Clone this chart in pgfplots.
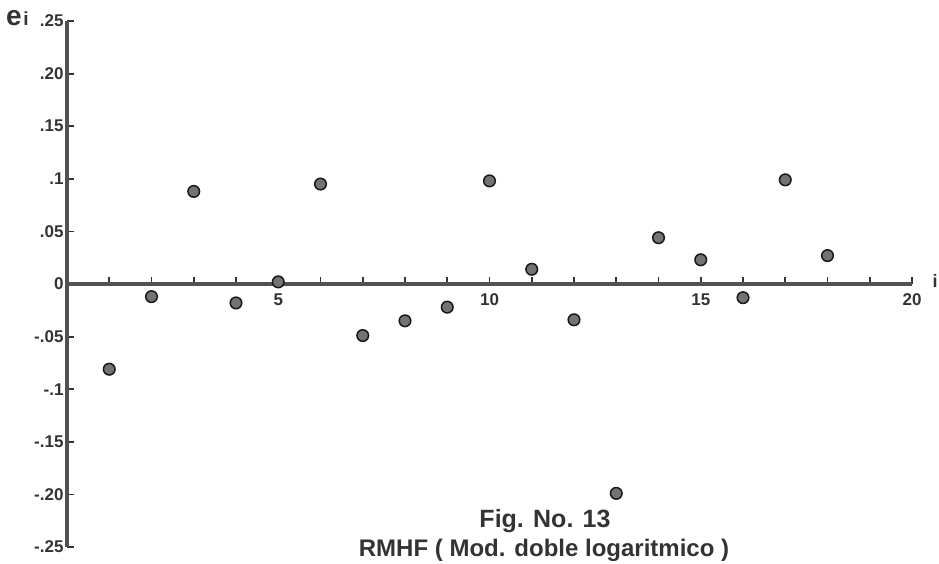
\documentclass[border=0pt]{standalone}
\usepackage{pgfplots}
\pgfplotsset{compat=1.18}
\usepackage{fontspec}
\setmainfont{Liberation Sans}
\definecolor{ink}{gray}{0.2}
\begin{document}
\begin{tikzpicture}
\path[use as bounding box] (0pt,0pt) rectangle (939pt,563pt);
\begin{axis}[
  at={(67pt,16pt)}, anchor=south west,
  scale only axis, width=845pt, height=526pt,
  xmin=0, xmax=20, ymin=-0.25, ymax=0.25,
  enlargelimits=false, clip=false,
  axis x line=middle, axis y line=left,
  axis line style={-, line width=3.5pt, draw=ink!85},
  xtick={1,...,20},
  xticklabels={,,,,5,,,,,10,,,,,15,,,,,20},
  ytick={-0.25,-0.2,-0.15,-0.1,-0.05,0,0.05,0.1,0.15,0.2,0.25},
  yticklabels={-.25,-.20,-.15,-.1,-.05,0,.05,.1,.15,.20,.25},
  tick align=inside,
  major tick length=7pt,
  tick style={line width=1.8pt, draw=ink},
  ticklabel style={font=\fontsize{17}{17}\selectfont\bfseries, text=ink},
  xticklabel style={yshift=-6pt},
  hide obscured x ticks=false, hide obscured y ticks=false,
]
\addplot[only marks, mark=*, mark size=5.8pt,
  mark options={fill=black!55, draw=black!90, line width=1.5pt}]
coordinates {
(1,-0.081) (2,-0.012) (3,0.088) (4,-0.018) (5,0.002) (6,0.095)
(7,-0.049) (8,-0.035) (9,-0.022) (10,0.098) (11,0.014) (12,-0.034)
(13,-0.199) (14,0.044) (15,0.023) (16,-0.013) (17,0.099) (18,0.027)
};
\end{axis}
\node[anchor=base west, text=ink, inner sep=0pt] at (6pt,537pt)
  {\bfseries{\fontsize{28}{28}\selectfont e}\,{\fontsize{19}{19}\selectfont i}};
\node[anchor=base, text=ink, inner sep=0pt, font=\fontsize{18}{18}\selectfont\bfseries] at (935pt,276pt) {i};
\node[anchor=base, text=ink, inner sep=0pt, font=\fontsize{25}{25}\selectfont\bfseries] at (545pt,36pt) {Fig. No. 13};
\node[anchor=base, text=ink, inner sep=0pt, font=\fontsize{24}{24}\selectfont\bfseries] at (544pt,7pt) {RMHF ( Mod. doble logaritmico )};
\end{tikzpicture}
\end{document}
